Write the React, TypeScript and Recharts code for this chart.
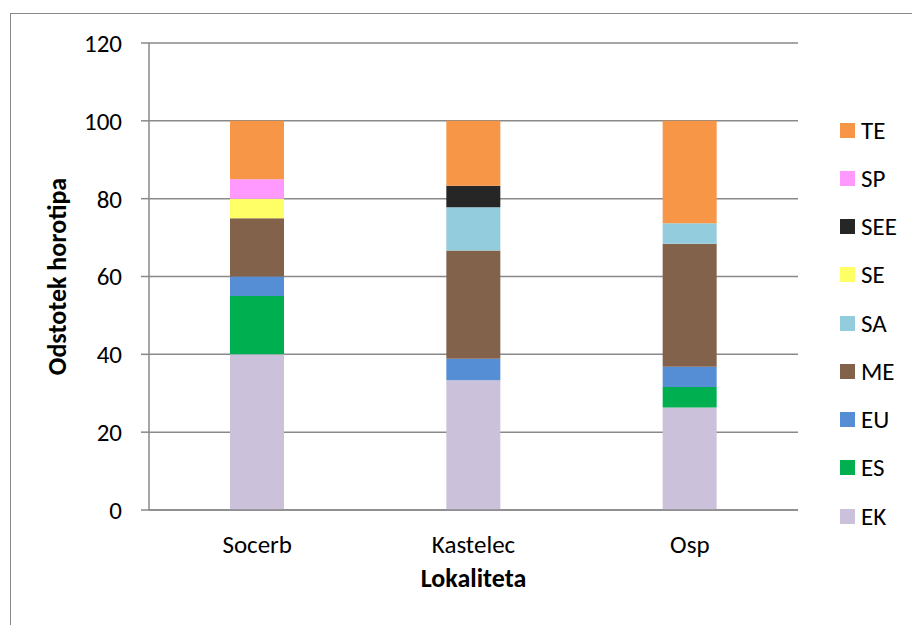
import { Bar, BarChart, CartesianGrid, XAxis, YAxis } from "recharts";

// Share of chorotypes (%) per locality
const sites = ["Socerb", "Kastelec", "Osp"];
const ekValues = [40, 33.33, 26.32];
const esValues = [15, 0, 5.26];
const euValues = [5, 5.56, 5.26];
const meValues = [15, 27.78, 31.58];
const saValues = [0, 11.11, 5.26];
const seValues = [5, 0, 0];
const seeValues = [0, 5.56, 0];
const spValues = [5, 0, 0];
const teValues = [15, 16.67, 26.32];
const yTicks = [0, 20, 40, 60, 80, 100, 120];

const series = [
  { key: "EK", values: ekValues, color: "#CCC1DA" },
  { key: "ES", values: esValues, color: "#00B050" },
  { key: "EU", values: euValues, color: "#558ED5" },
  { key: "ME", values: meValues, color: "#82624B" },
  { key: "SA", values: saValues, color: "#93CDDD" },
  { key: "SE", values: seValues, color: "#FFFF66" },
  { key: "SEE", values: seeValues, color: "#262626" },
  { key: "SP", values: spValues, color: "#FF99FF" },
  { key: "TE", values: teValues, color: "#F79646" },
];

const rows = sites.map((site, i) => {
  const row: Record<string, string | number> = { site };
  series.forEach((s) => { row[s.key] = s.values[i]; });
  return row;
});

const FONT = "Carlito, Calibri, Lato, sans-serif";
const GRID = "#898989";
const TICK_SIZE = 25;
const TITLE_SIZE = 26;

// legend lists the top of the stack first
function ChoroLegend() {
  return (
    <div style={{ position: "absolute", left: 840, top: 106, fontFamily: FONT, fontSize: TICK_SIZE, color: "#000" }}>
      {[...series].reverse().map((s) => (
        <div key={s.key} style={{ display: "flex", alignItems: "center", height: 48.25 }}>
          <span style={{ width: 15, height: 15, background: s.color, marginRight: 6 }} />
          <span style={{ lineHeight: 1 }}>{s.key}</span>
        </div>
      ))}
    </div>
  );
}

export default function App() {
  return (
    <div style={{ position: "fixed", left: 0, top: 0, width: 912, height: 625, overflow: "hidden", background: "#fff" }}>
      <div style={{ position: "absolute", left: 10, top: 13, width: 1000, height: 1000, borderLeft: `1px solid ${GRID}`, borderTop: `1px solid ${GRID}` }} />
      <BarChart
        width={912}
        height={625}
        data={rows}
        margin={{ top: 43, right: 114, bottom: 75, left: 29 }}
        barSize={54}
        style={{ fontFamily: FONT }}
      >
        <CartesianGrid vertical={false} stroke={GRID} strokeWidth={1.5} />
        <XAxis
          dataKey="site"
          height={40}
          tickLine={false}
          tickSize={0}
          tickMargin={25}
          axisLine={{ stroke: GRID, strokeWidth: 1.5 }}
          tick={{ fontSize: TICK_SIZE, fill: "#000", fontFamily: FONT }}
          label={{
            content: ({ viewBox }: any) => (
              <text x={viewBox.x + viewBox.width / 2} y={587} textAnchor="middle" fontSize={TITLE_SIZE} fontWeight="bold" fontFamily={FONT} fill="#000">
                Lokaliteta
              </text>
            ),
          }}
        />
        <YAxis
          width={120}
          domain={[0, 120]}
          ticks={yTicks}
          interval={0}
          tickSize={8}
          tickMargin={19}
          tickLine={{ stroke: GRID, strokeWidth: 1.5 }}
          axisLine={{ stroke: GRID, strokeWidth: 1.5 }}
          tick={{ fontSize: TICK_SIZE, fill: "#000", fontFamily: FONT }}
          label={{
            content: ({ viewBox }: any) => {
              const cx = 66;
              const cy = viewBox.y + viewBox.height / 2;
              return (
                <text x={cx} y={cy} transform={`rotate(-90, ${cx}, ${cy})`} textAnchor="middle" fontSize={TITLE_SIZE} fontWeight="bold" fontFamily={FONT} fill="#000">
                  Odstotek horotipa
                </text>
              );
            },
          }}
        />
        {series.map((s) => (
          <Bar key={s.key} dataKey={s.key} name={s.key} stackId="horotip" fill={s.color} isAnimationActive={false} />
        ))}
      </BarChart>
      <ChoroLegend />
    </div>
  );
}
